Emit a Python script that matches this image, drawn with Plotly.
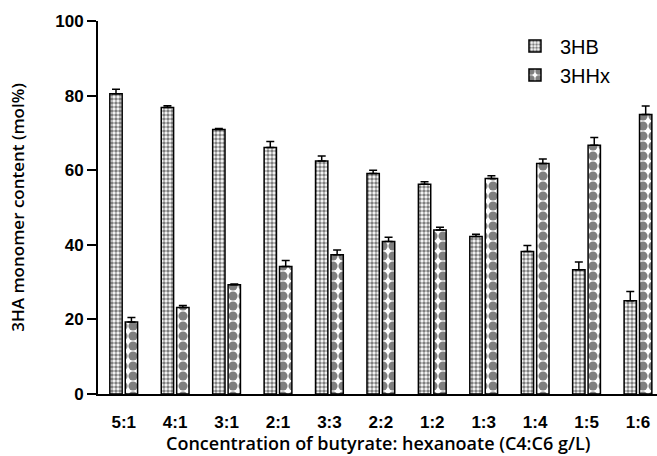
import plotly.graph_objects as go

categories = ["5:1", "4:1", "3:1", "2:1", "3:3", "2:2", "1:2", "1:3", "1:4", "1:5", "1:6"]
hb_values = [80.5, 76.8, 70.9, 66.1, 62.5, 59.1, 56.2, 42.2, 38.2, 33.3, 25.0]
hb_err = [1.2, 0.5, 0.3, 1.6, 1.3, 0.9, 0.7, 0.6, 1.6, 2.1, 2.5]
hhx_values = [19.3, 23.2, 29.3, 34.2, 37.3, 40.9, 44.0, 57.8, 61.8, 66.7, 74.9]
hhx_err = [1.2, 0.5, 0.2, 1.6, 1.3, 1.1, 0.7, 0.7, 1.2, 2.1, 2.3]
x_title = "Concentration of butyrate: hexanoate (C4:C6 g/L)"
y_title = "3HA monomer content (mol%)"

fig = go.Figure()
fig.add_trace(go.Bar(
    name="3HB", x=categories, y=hb_values,
    marker=dict(color="white", line=dict(color="black", width=1.5),
                pattern=dict(shape=".", size=4, solidity=0.6, fgcolor="black", bgcolor="white")),
    error_y=dict(type="data", array=hb_err, arrayminus=[0] * len(hb_err), symmetric=False,
                 color="black", thickness=1.5, width=4),
))
fig.add_trace(go.Bar(
    name="3HHx", x=categories, y=hhx_values,
    marker=dict(color="white", line=dict(color="black", width=1.5),
                pattern=dict(shape=".", size=10, solidity=0.65, fgcolor="black", bgcolor="white")),
    error_y=dict(type="data", array=hhx_err, arrayminus=[0] * len(hhx_err), symmetric=False,
                 color="black", thickness=1.5, width=4),
))

fig.update_layout(
    width=657, height=456,
    margin=dict(l=98, r=0, t=21, b=62),
    paper_bgcolor="white", plot_bgcolor="white",
    barmode="group", bargap=0.4, bargroupgap=0.2,
    showlegend=True,
    legend=dict(x=0.737, y=0.985, xanchor="left", yanchor="top",
                font=dict(family="Liberation Sans", size=20, color="black"),
                bgcolor="rgba(0,0,0,0)", itemwidth=40),
    xaxis=dict(range=[-0.5, 10.37], showline=True, linecolor="black", linewidth=2,
               ticks="outside", ticklen=12, tickcolor="rgba(0,0,0,0)",
               showgrid=False, zeroline=False, automargin=False,
               tickfont=dict(family="Liberation Sans", size=17, color="black", weight="bold")),
    yaxis=dict(range=[0, 100], tickvals=[0, 20, 40, 60, 80, 100], showline=True,
               linecolor="black", linewidth=2, ticks="outside", ticklen=9, tickwidth=2,
               tickcolor="black", showgrid=False, zeroline=False, automargin=False,
               tickfont=dict(family="Liberation Sans", size=17, color="black", weight="bold"),
               title=dict(text=y_title,
                          font=dict(family="Open Sans", size=17, color="black", weight=600),
                          standoff=26)),
    annotations=[dict(text=x_title, xref="paper", yref="paper", x=0.5, y=-0.132,
                      xanchor="center", yanchor="middle", showarrow=False, borderpad=0,
                      font=dict(family="Open Sans", size=18, color="black", weight=600))],
)

fig.write_html("out.html", config={"displayModeBar": False},
               post_script="document.body.style.margin='0';")
